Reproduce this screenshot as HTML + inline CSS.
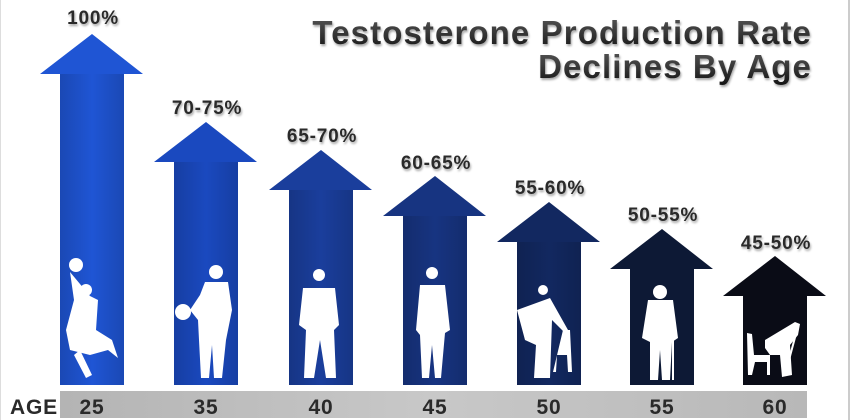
<!DOCTYPE html>
<html><head><meta charset="utf-8"><style>
html,body{margin:0;padding:0;background:#fff;}
svg{display:block;}
text{font-family:"Liberation Sans",sans-serif;font-weight:bold;}
</style></head><body>
<svg width="850" height="420" viewBox="0 0 850 420" xmlns="http://www.w3.org/2000/svg">
<defs>
<linearGradient id="tg" x1="0" y1="0" x2="0" y2="1"><stop offset="0" stop-color="#5a5a5a"/><stop offset="1" stop-color="#151515"/></linearGradient>
<linearGradient id="bar" x1="0" y1="0" x2="1" y2="0"><stop offset="0" stop-color="#b4b4b4"/><stop offset="0.5" stop-color="#c8c8c8"/><stop offset="1" stop-color="#b8b8b8"/></linearGradient>
<linearGradient id="sg" x1="0" y1="0" x2="1" y2="0"><stop offset="0" stop-color="#000" stop-opacity="0.15"/><stop offset="0.5" stop-color="#000" stop-opacity="0"/><stop offset="1" stop-color="#000" stop-opacity="0.15"/></linearGradient>
<filter id="sh"><feDropShadow dx="1" dy="2" stdDeviation="1" flood-color="#000" flood-opacity="0.35"/></filter>
</defs>
<rect x="848" y="0" width="2" height="420" fill="#ccc"/>
<rect x="0" y="0" width="1" height="420" fill="#ddd"/>
<g filter="url(#sh)" fill="url(#tg)" text-anchor="end" font-size="33" letter-spacing="1.1">
<text x="812" y="44">Testosterone Production Rate</text>
<text x="812" y="78">Declines By Age</text>
</g>
<g id="arrows">
<polygon points="92,34 143,74 124,74 124,385 60,385 60,74 40,74" fill="#1f55d4"/>
<polygon points="206,122 257,162 238,162 238,385 174,385 174,162 154,162" fill="#1a49bf"/>
<polygon points="321,150 372,190 353,190 353,385 289,385 289,190 269,190" fill="#1a3e9c"/>
<polygon points="435,176 486,216 467,216 467,385 403,385 403,216 383,216" fill="#173481"/>
<polygon points="549,202 600,242 581,242 581,385 517,385 517,242 497,242" fill="#122860"/>
<polygon points="662,229 713,269 694,269 694,385 630,385 630,269 610,269" fill="#0d1935"/>
<polygon points="775,256 826,296 807,296 807,385 743,385 743,296 723,296" fill="#0a0c16"/>
<rect x="60" y="74" width="64" height="311" fill="url(#sg)"/>
<rect x="174" y="162" width="64" height="223" fill="url(#sg)"/>
<rect x="289" y="190" width="64" height="195" fill="url(#sg)"/>
<rect x="403" y="216" width="64" height="169" fill="url(#sg)"/>
<rect x="517" y="242" width="64" height="143" fill="url(#sg)"/>
</g>
<g fill="#fff">
<circle cx="76" cy="265" r="7"/><circle cx="86" cy="290" r="6"/>
<path d="M70 272 L74 300 L66 330 L70 350 L90 355 L108 350 L118 358 L112 340 L96 330 L98 300 L90 296 Z"/>
<path d="M80 350 L92 375 L86 378 L74 355 Z"/>
<circle cx="216" cy="272" r="7"/><circle cx="183" cy="312" r="8"/>
<path d="M205 282 L228 282 L232 310 L226 340 L222 378 L214 378 L212 345 L209 378 L201 378 L199 340 L198 320 L190 310 L200 295 Z"/>
<circle cx="319" cy="275" r="6"/>
<path d="M303 288 L335 288 L339 325 L334 330 L336 378 L326 378 L320 340 L314 378 L304 378 L306 330 L299 325 Z"/>
<circle cx="432" cy="273" r="6"/>
<path d="M420 285 L445 285 L450 330 L445 333 L441 378 L435 378 L432 345 L429 378 L422 378 L420 335 L416 330 Z"/>
<circle cx="543" cy="290" r="5"/>
<path d="M517 310 L550 298 L568 330 L564 332 L552 320 L550 378 L534 378 L536 345 L525 340 Z"/>
<path d="M563 330 L570 330 L572 372 L568 372 L567 355 L557 355 L556 372 L553 372 Z"/>
<circle cx="660" cy="292" r="7"/>
<path d="M648 300 L673 300 L678 338 L672 342 L670 380 L662 380 L660 350 L658 380 L650 380 L650 342 L642 338 Z"/>
<rect x="672" y="335" width="2" height="45"/>
<path d="M747 333 L752 334 L754 355 L770 355 L770 375 L767 375 L767 362 L755 362 L752 375 L748 375 Z"/>
<path d="M765 340 L795 322 L800 324 L798 335 L790 345 L792 375 L782 377 L780 355 L770 355 L765 348 Z"/>
<rect x="796" y="330" width="2" height="45" transform="rotate(15 797 330)"/>
</g>
<g filter="url(#sh)" fill="#2a2a2a" font-size="19" letter-spacing="0.8" text-anchor="middle">
<text x="93" y="24">100%</text>
<text x="207" y="114">70-75%</text>
<text x="322" y="142">65-70%</text>
<text x="436" y="169">60-65%</text>
<text x="550" y="194">55-60%</text>
<text x="663" y="221">50-55%</text>
<text x="776" y="249">45-50%</text>
</g>
<rect x="60" y="391" width="747" height="27" fill="url(#bar)"/>
<g fill="#2a2a2a" font-size="21" letter-spacing="0.8" text-anchor="middle">
<text x="34" y="414">AGE</text>
<text x="92" y="414">25</text>
<text x="206" y="414">35</text>
<text x="321" y="414">40</text>
<text x="435" y="414">45</text>
<text x="549" y="414">50</text>
<text x="662" y="414">55</text>
<text x="775" y="414">60</text>
</g>
</svg>
</body></html>
